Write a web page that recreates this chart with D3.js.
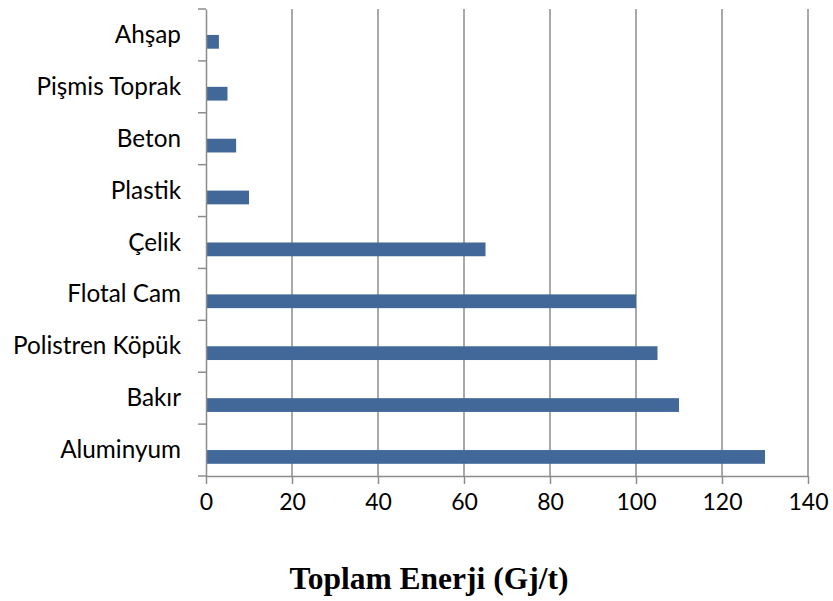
<!DOCTYPE html>
<html>
<head>
<meta charset="utf-8">
<script src="https://cdn.jsdelivr.net/npm/d3@7"></script>
<style>
  html, body { margin: 0; padding: 0; background: #fff; }
  svg { display: block; }
</style>
</head>
<body>
<svg id="chart" width="833" height="601"></svg>
<script>
const categories = ["Ahşap", "Pişmis Toprak", "Beton", "Plastik", "Çelik", "Flotal Cam", "Polistren Köpük", "Bakır", "Aluminyum"];
const values = [3, 5, 7, 10, 65, 100, 105, 110, 130];
const xTicks = [0, 20, 40, 60, 80, 100, 120, 140];
const axisTitle = "Toplam Enerji (Gj/t)";

const svg = d3.select("#chart");
const margin = { left: 206, right: 25, top: 9, bottom: 125 };
const W = 833, H = 601;
const x = d3.scaleLinear().domain([0, 140]).range([margin.left, W - margin.right]);
const y = d3.scaleBand().domain(categories).range([margin.top, H - margin.bottom]);

const gridColor = "#8c8c8c";
const labelFont = "Lato, 'Open Sans', sans-serif";
const labelSize = 24.3;

// gridlines
svg.append("g").selectAll("line").data(xTicks.filter(d => d > 0)).join("line")
  .attr("x1", d => x(d)).attr("x2", d => x(d))
  .attr("y1", y.range()[0]).attr("y2", y.range()[1])
  .attr("stroke", gridColor).attr("stroke-width", 1.5);

// bars
svg.append("g").selectAll("rect").data(categories).join("rect")
  .attr("x", x(0))
  .attr("y", d => y(d) + y.bandwidth() * 0.5)
  .attr("width", (d, i) => x(values[i]) - x(0))
  .attr("height", y.bandwidth() * 0.265)
  .attr("fill", "#416899");

// left axis
const yAxis = d3.axisLeft(y).tickSize(0).tickPadding(25);
const gy = svg.append("g").attr("transform", `translate(${x(0)},0)`).call(yAxis);
gy.select(".domain").attr("stroke", gridColor).attr("stroke-width", 1.5);
gy.selectAll("text").attr("font-family", labelFont).attr("font-size", labelSize).attr("fill", "#000").attr("dy", "0.33em");
// category boundary ticks
const bounds = categories.map(c => y(c)).concat([y.range()[1]]);
svg.append("g").selectAll("line").data(bounds).join("line")
  .attr("x1", x(0) - 8).attr("x2", x(0))
  .attr("y1", d => d).attr("y2", d => d)
  .attr("stroke", gridColor).attr("stroke-width", 1.5);

// bottom axis
const xAxis = d3.axisBottom(x).tickValues(xTicks).tickSize(8).tickPadding(10).tickSizeOuter(0);
const gx = svg.append("g").attr("transform", `translate(0,${y.range()[1]})`).call(xAxis);
gx.select(".domain").attr("stroke", gridColor).attr("stroke-width", 1.5);
gx.selectAll(".tick line").attr("stroke", gridColor).attr("stroke-width", 1.5);
gx.selectAll("text").attr("font-family", labelFont).attr("font-size", 23).attr("fill", "#000");

// axis title
svg.append("text")
  .attr("x", 429).attr("y", 589)
  .attr("text-anchor", "middle")
  .attr("font-family", "'Liberation Serif', 'Times New Roman', serif")
  .attr("font-weight", "bold")
  .attr("font-size", 31.5)
  .attr("fill", "#000")
  .text(axisTitle);
</script>
</body>
</html>
